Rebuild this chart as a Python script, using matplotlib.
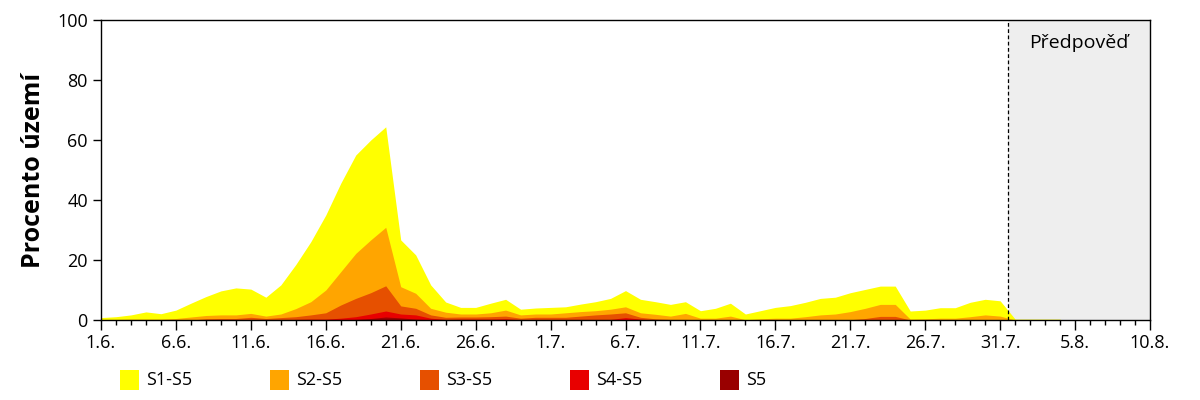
import matplotlib
matplotlib.use("Agg")
import matplotlib.pyplot as plt
from matplotlib.patches import Rectangle
import numpy as np

plt.rcParams['font.family'] = ['Open Sans', 'DejaVu Sans']

# day index 0 = 1.6.
s1_s5 = [0.8, 1.1, 1.7, 2.7, 2.1, 3.3, 5.6, 7.8, 9.7, 10.7,
         10.3, 7.6, 11.7, 18.5, 26.1, 35.0, 45.6, 55.0, 60.0, 64.4,
         26.7, 21.7, 11.7, 6.0, 4.2, 4.2, 5.6, 6.9, 3.6, 4.0,
         4.2, 4.4, 5.3, 6.1, 7.2, 9.8, 6.9, 6.1, 5.2, 6.1,
         3.1, 3.9, 5.6, 2.0, 3.1, 4.2, 4.8, 5.9, 7.2, 7.6,
         9.1, 10.2, 11.3, 11.3, 3.0, 3.3, 4.1, 4.1, 5.9, 6.9,
         6.4, 0.3, 0.3, 0.3, 0.3]
s2_s5 = [0.2, 0.2, 0.3, 0.3, 0.3, 0.5, 1.0, 1.5, 1.7, 1.7,
         2.2, 1.3, 2.0, 3.8, 6.1, 10.0, 16.1, 22.2, 26.7, 30.9,
         11.1, 8.9, 3.9, 2.6, 2.0, 2.0, 2.4, 3.3, 1.7, 2.0,
         2.0, 2.4, 2.8, 3.1, 3.6, 4.4, 2.4, 1.9, 1.3, 2.2,
         0.6, 0.6, 1.3, 0.1, 0.4, 0.6, 0.6, 1.1, 1.7, 2.0,
         2.8, 3.9, 5.2, 5.2, 0.3, 0.4, 0.6, 0.6, 1.1, 1.7,
         1.3, 0.0, 0.0, 0.0, 0.0]
s3_s5 = [0.0, 0.0, 0.0, 0.0, 0.0, 0.0, 0.0, 0.4, 0.5, 0.5,
         0.9, 0.5, 0.8, 1.1, 1.7, 2.4, 5.0, 7.2, 9.1, 11.4,
         4.7, 3.9, 1.7, 0.9, 1.0, 1.0, 1.1, 1.3, 0.6, 0.9,
         0.9, 0.9, 1.3, 1.7, 2.0, 2.4, 0.9, 0.4, 0.2, 0.2,
         0.1, 0.1, 0.1, 0.1, 0.1, 0.1, 0.1, 0.1, 0.1, 0.1,
         0.1, 0.5, 1.2, 1.2, 0.0, 0.0, 0.0, 0.0, 0.0, 0.0,
         0.0, 0.0, 0.0, 0.0, 0.0]
s4_s5 = [0.0, 0.0, 0.0, 0.0, 0.0, 0.0, 0.0, 0.0, 0.0, 0.0,
         0.0, 0.0, 0.0, 0.2, 0.3, 0.3, 0.6, 1.1, 2.0, 3.0,
         2.0, 1.7, 0.6, 0.2, 0.3, 0.3, 0.3, 0.4, 0.1, 0.2,
         0.2, 0.2, 0.2, 0.2, 0.2, 0.8, 0.3, 0.0, 0.0, 0.0,
         0.0, 0.0, 0.0, 0.0, 0.0, 0.0, 0.0, 0.0, 0.0, 0.0,
         0.0, 0.0, 0.0, 0.0, 0.0, 0.0, 0.0, 0.0, 0.0, 0.0,
         0.0, 0.0, 0.0, 0.0, 0.0]
s5 = [0.0] * 17 + [0.2, 0.5, 1.0, 0.7, 0.3, 0.1] + [0.0] * 42

series = [s1_s5, s2_s5, s3_s5, s4_s5, s5]
labels = ["S1-S5", "S2-S5", "S3-S5", "S4-S5", "S5"]
colors = ["#FFFF00", "#FFA500", "#E65000", "#E80000", "#990000"]

tick_labels = ["1.6.", "6.6.", "11.6.", "16.6.", "21.6.", "26.6.", "1.7.",
               "6.7.", "11.7.", "16.7.", "21.7.", "26.7.", "31.7.", "5.8.", "10.8."]
forecast_start = 60.5
x_end = 70

fig = plt.figure(figsize=(12, 4), dpi=100)
ax = fig.add_axes([101/1200, 80/400, (1150-101)/1200, 300/400])

days = np.arange(len(s1_s5))
ax.axvspan(forecast_start, x_end, color="#EEEEEE", zorder=0, lw=0)
for vals, c in zip(series, colors):
    ax.fill_between(days, 0, vals, color=c, lw=0, zorder=2)
ax.axvline(forecast_start, color="black", ls=(0, (3, 2)), lw=0.9, zorder=3)
ax.text((forecast_start + x_end) / 2, 92.5, "Předpověď", ha="center", va="center",
        fontsize=14, zorder=4)

ax.set_xlim(0, x_end)
ax.set_ylim(0, 100)
ax.set_xticks(np.arange(0, x_end + 1, 5))
ax.set_xticklabels(tick_labels, fontsize=13)
ax.set_xticks(np.arange(0, x_end + 1, 1), minor=True)
ax.set_yticks(np.arange(0, 101, 20))
ax.tick_params(axis="y", labelsize=13, length=6, width=1)
ax.tick_params(axis="x", which="major", length=7, width=1, pad=3)
ax.tick_params(axis="x", which="minor", length=3.5, width=1)
for sp in ax.spines.values():
    sp.set_linewidth(1)
    sp.set_zorder(5)
ax.set_ylabel("Procento území", fontsize=18, fontweight="bold", labelpad=8)

# legend below the axes
for i, (lab, c) in enumerate(zip(labels, colors)):
    x0 = (120 + 150 * i) / 1200
    fig.patches.append(Rectangle((x0, 1 - 390/400), 19/1200, 20/400,
                                 transform=fig.transFigure, color=c, lw=0))
    fig.text(x0 + 26/1200, 1 - 380/400, lab, fontsize=13, va="center", ha="left")

fig.savefig("out.png", dpi=100)
